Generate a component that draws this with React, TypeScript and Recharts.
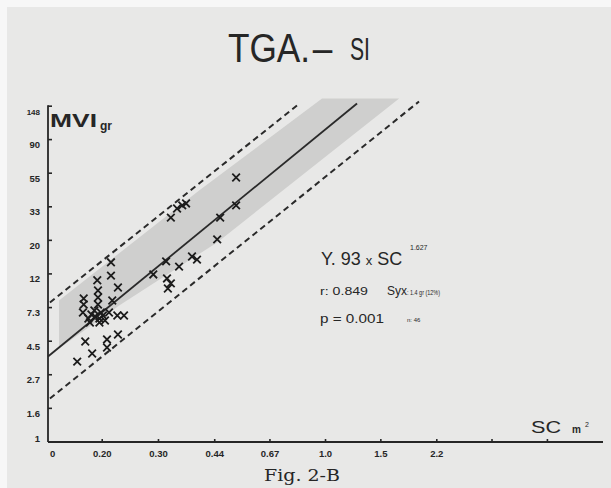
import React from "react";
import { ComposedChart, Area, Scatter, XAxis, YAxis, ReferenceLine } from "recharts";

// ---- axes (log scales) ----
const xDomain = [0.1353, 7.389];
const yDomain = [1, 177.4];
const xTickValues = [0.14, 0.2, 0.3, 0.45, 0.67, 1.0, 1.49, 2.23, 3.32, 4.95];
const xTickLabels = ["0", "0.20", "0.30", "0.44", "0.67", "1.0", "1.5", "2.2", "", ""];
const yTickValues = [1, 1.65, 2.72, 4.48, 7.39, 12.2, 20.1, 33.1, 54.6, 90.0, 148];
const yTickLabels = ["1", "1.6", "2.7", "4.5", "7.3", "12", "20", "33", "55", "90", "148"];

// ---- shaded band ----
const bandSC = [0.1465, 0.226, 0.402, 0.458, 0.975, 1.7];
const bandLow = [4.02, 7.62, 16.4, 19.5, 67.0, 166];
const bandHigh = [8.21, 16.6, 42.2, 51.6, 166, 166];

// ---- regression and limit lines (end points) ----
const regSC = [0.1353, 1.255];
const regMVI = [3.57, 154];
const upperSC = [0.1372, 0.814];
const upperMVI = [7.97, 149.5];
const lowerSC = [0.1372, 1.962];
const lowerMVI = [1.91, 158.7];

// ---- observations (n = 46) ----
const pointSC = [
  0.525, 0.525, 0.468, 0.458, 0.343, 0.356, 0.366, 0.328, 0.382, 0.396,
  0.317, 0.348, 0.289, 0.319, 0.328, 0.321, 0.213, 0.213, 0.193, 0.224,
  0.215, 0.175, 0.175, 0.194, 0.194, 0.194, 0.185, 0.19, 0.196, 0.201,
  0.181, 0.189, 0.204, 0.223, 0.234, 0.224, 0.177, 0.207, 0.207, 0.186,
  0.167, 0.198, 0.174, 0.21, 0.196, 0.183,
];
const pointMVI = [
  51.2, 33.8, 28.2, 20.4, 32.3, 33.8, 34.8, 28.2, 15.8, 15.1,
  14.7, 13.6, 12.1, 11.4, 10.6, 9.82, 14.5, 11.9, 11.1, 9.96,
  8.21, 8.46, 7.74, 9.53, 8.59, 7.74, 6.67, 6.47, 6.28, 6.57,
  6.28, 7.08, 6.1, 6.57, 6.57, 4.95, 4.46, 4.6, 4.08, 3.73,
  3.31, 6.87, 6.87, 6.87, 5.92, 5.92,
];

const bandData = bandSC.map((sc, i) => ({ sc, band: [bandLow[i], bandHigh[i]] }));
const pointData = pointSC.map((sc, i) => ({ sc, mvi: pointMVI[i] }));

const INK = "#262626";
const SANS = "'Liberation Sans', Arial, sans-serif";

const XTick = (props: any) => {
  const { x, y, payload } = props;
  let i = xTickValues.indexOf(payload?.value);
  if (i < 0) i = props.index ?? 0;
  const label = xTickLabels[i] ?? "";
  return (
    <g>
      {i > 0 && <line x1={x} y1={y} x2={x} y2={y - 3} stroke={INK} strokeWidth={1.6} />}
      <text x={x} y={y + 15} textAnchor="middle" fontSize={9.5} fontWeight="bold" fill={INK} fontFamily={SANS}>
        {label}
      </text>
    </g>
  );
};

const YTick = (props: any) => {
  const { x, y, payload } = props;
  let i = yTickValues.indexOf(payload?.value);
  if (i < 0) i = props.index ?? 0;
  const label = yTickLabels[i] ?? "";
  return (
    <g>
      {i > 0 && <line x1={x} y1={y} x2={x + 4} y2={y} stroke={INK} strokeWidth={1.6} />}
      <text
        x={x - 8}
        y={i === 0 ? y : y + 8.5}
        textAnchor="end"
        fontSize={i === 10 ? 8 : 9.5}
        fontWeight="bold"
        fill={INK}
        fontFamily={SANS}
      >
        {label}
      </text>
    </g>
  );
};

const Cross = (props: any) => {
  const { cx, cy } = props;
  if (cx == null || cy == null) return <g />;
  const s = 3.8;
  return (
    <path
      d={`M${cx - s},${cy - s}L${cx + s},${cy + s}M${cx + s},${cy - s}L${cx - s},${cy + s}`}
      stroke="#1c1c1c"
      strokeWidth={1.8}
      fill="none"
    />
  );
};

export default function App() {
  return (
    <div style={{ position: "absolute", left: 0, top: 0, width: 611, height: 488, background: "#f7f7f7", overflow: "hidden" }}>
      <div style={{ position: "absolute", left: 7, top: 7, width: 604, height: 481, background: "#e8e8e7" }} />
      <div style={{ position: "absolute", left: 0, top: 0 }}>
        <ComposedChart width={611} height={488} data={bandData} margin={{ top: 94, right: 8, bottom: 0, left: 0 }}>
          <XAxis
            dataKey="sc"
            type="number"
            scale="log"
            domain={xDomain}
            allowDataOverflow
            ticks={xTickValues}
            interval={0}
            height={46}
            tickSize={0}
            tickMargin={0}
            tickLine={false}
            axisLine={{ stroke: INK, strokeWidth: 1.8 }}
            tick={XTick}
          />
          <YAxis
            dataKey="mvi"
            type="number"
            scale="log"
            domain={yDomain}
            allowDataOverflow
            ticks={yTickValues}
            interval={0}
            width={48}
            tickSize={0}
            tickMargin={0}
            tickLine={false}
            axisLine={false}
            tick={YTick}
          />
          <Area
            type="linear"
            dataKey="band"
            stroke="none"
            fill="#cfcfce"
            fillOpacity={1}
            isAnimationActive={false}
            dot={false}
            activeDot={false}
          />
          <ReferenceLine
            segment={[{ x: xDomain[0], y: yDomain[0] }, { x: xDomain[0], y: 150 }]}
            stroke={INK}
            strokeWidth={1.8}
          />
          <ReferenceLine
            segment={[{ x: regSC[0], y: regMVI[0] }, { x: regSC[1], y: regMVI[1] }]}
            stroke="#2a2a2a"
            strokeWidth={1.8}
          />
          <ReferenceLine
            segment={[{ x: upperSC[0], y: upperMVI[0] }, { x: upperSC[1], y: upperMVI[1] }]}
            stroke="#2a2a2a"
            strokeWidth={2}
            strokeDasharray="6 4"
          />
          <ReferenceLine
            segment={[{ x: lowerSC[0], y: lowerMVI[0] }, { x: lowerSC[1], y: lowerMVI[1] }]}
            stroke="#2a2a2a"
            strokeWidth={2}
            strokeDasharray="6 4"
          />
          <Scatter data={pointData} shape={Cross} isAnimationActive={false} />
        </ComposedChart>
      </div>
      <svg width={611} height={488} style={{ position: "absolute", left: 0, top: 0, pointerEvents: "none" }} fontFamily={SANS} fill={INK}>
        <text transform="translate(228,62) scale(0.88,1)" fontSize={40}>
          TGA.<tspan dx={3}>–</tspan>
        </text>
        <text x={350} y={60} fontSize={32} textLength={20} lengthAdjust="spacingAndGlyphs">SI</text>

        <text x={50} y={127} fontSize={18} fontWeight="bold" textLength={47} lengthAdjust="spacingAndGlyphs">MVI</text>
        <text x={100} y={130} fontSize={12} fontWeight="bold">gr</text>

        <text x={531} y={433} fontSize={17} textLength={30} lengthAdjust="spacingAndGlyphs">SC</text>
        <text x={572} y={433} fontSize={10} fontWeight="bold">m</text>
        <text x={585} y={427} fontSize={7}>2</text>

        <text x={321} y={265} fontSize={18}>Y. 93 <tspan fontSize={13}>x</tspan> SC</text>
        <text x={410} y={250} fontSize={7}>1.627</text>
        <text x={320} y={295} fontSize={10} textLength={48} lengthAdjust="spacingAndGlyphs">r: 0.849</text>
        <text x={387} y={295} fontSize={12}>Syx</text>
        <text x={407} y={295} fontSize={8} textLength={33} lengthAdjust="spacingAndGlyphs">: 1.4 gr (12%)</text>
        <text x={320} y={323} fontSize={13} textLength={64} lengthAdjust="spacingAndGlyphs">p = 0.001</text>
        <text x={407} y={322} fontSize={6}>n: 46</text>

        <text x={264} y={481} fontSize={16} fontFamily="'DejaVu Serif', serif" textLength={76} lengthAdjust="spacingAndGlyphs">Fig.  2-B</text>
      </svg>
    </div>
  );
}
